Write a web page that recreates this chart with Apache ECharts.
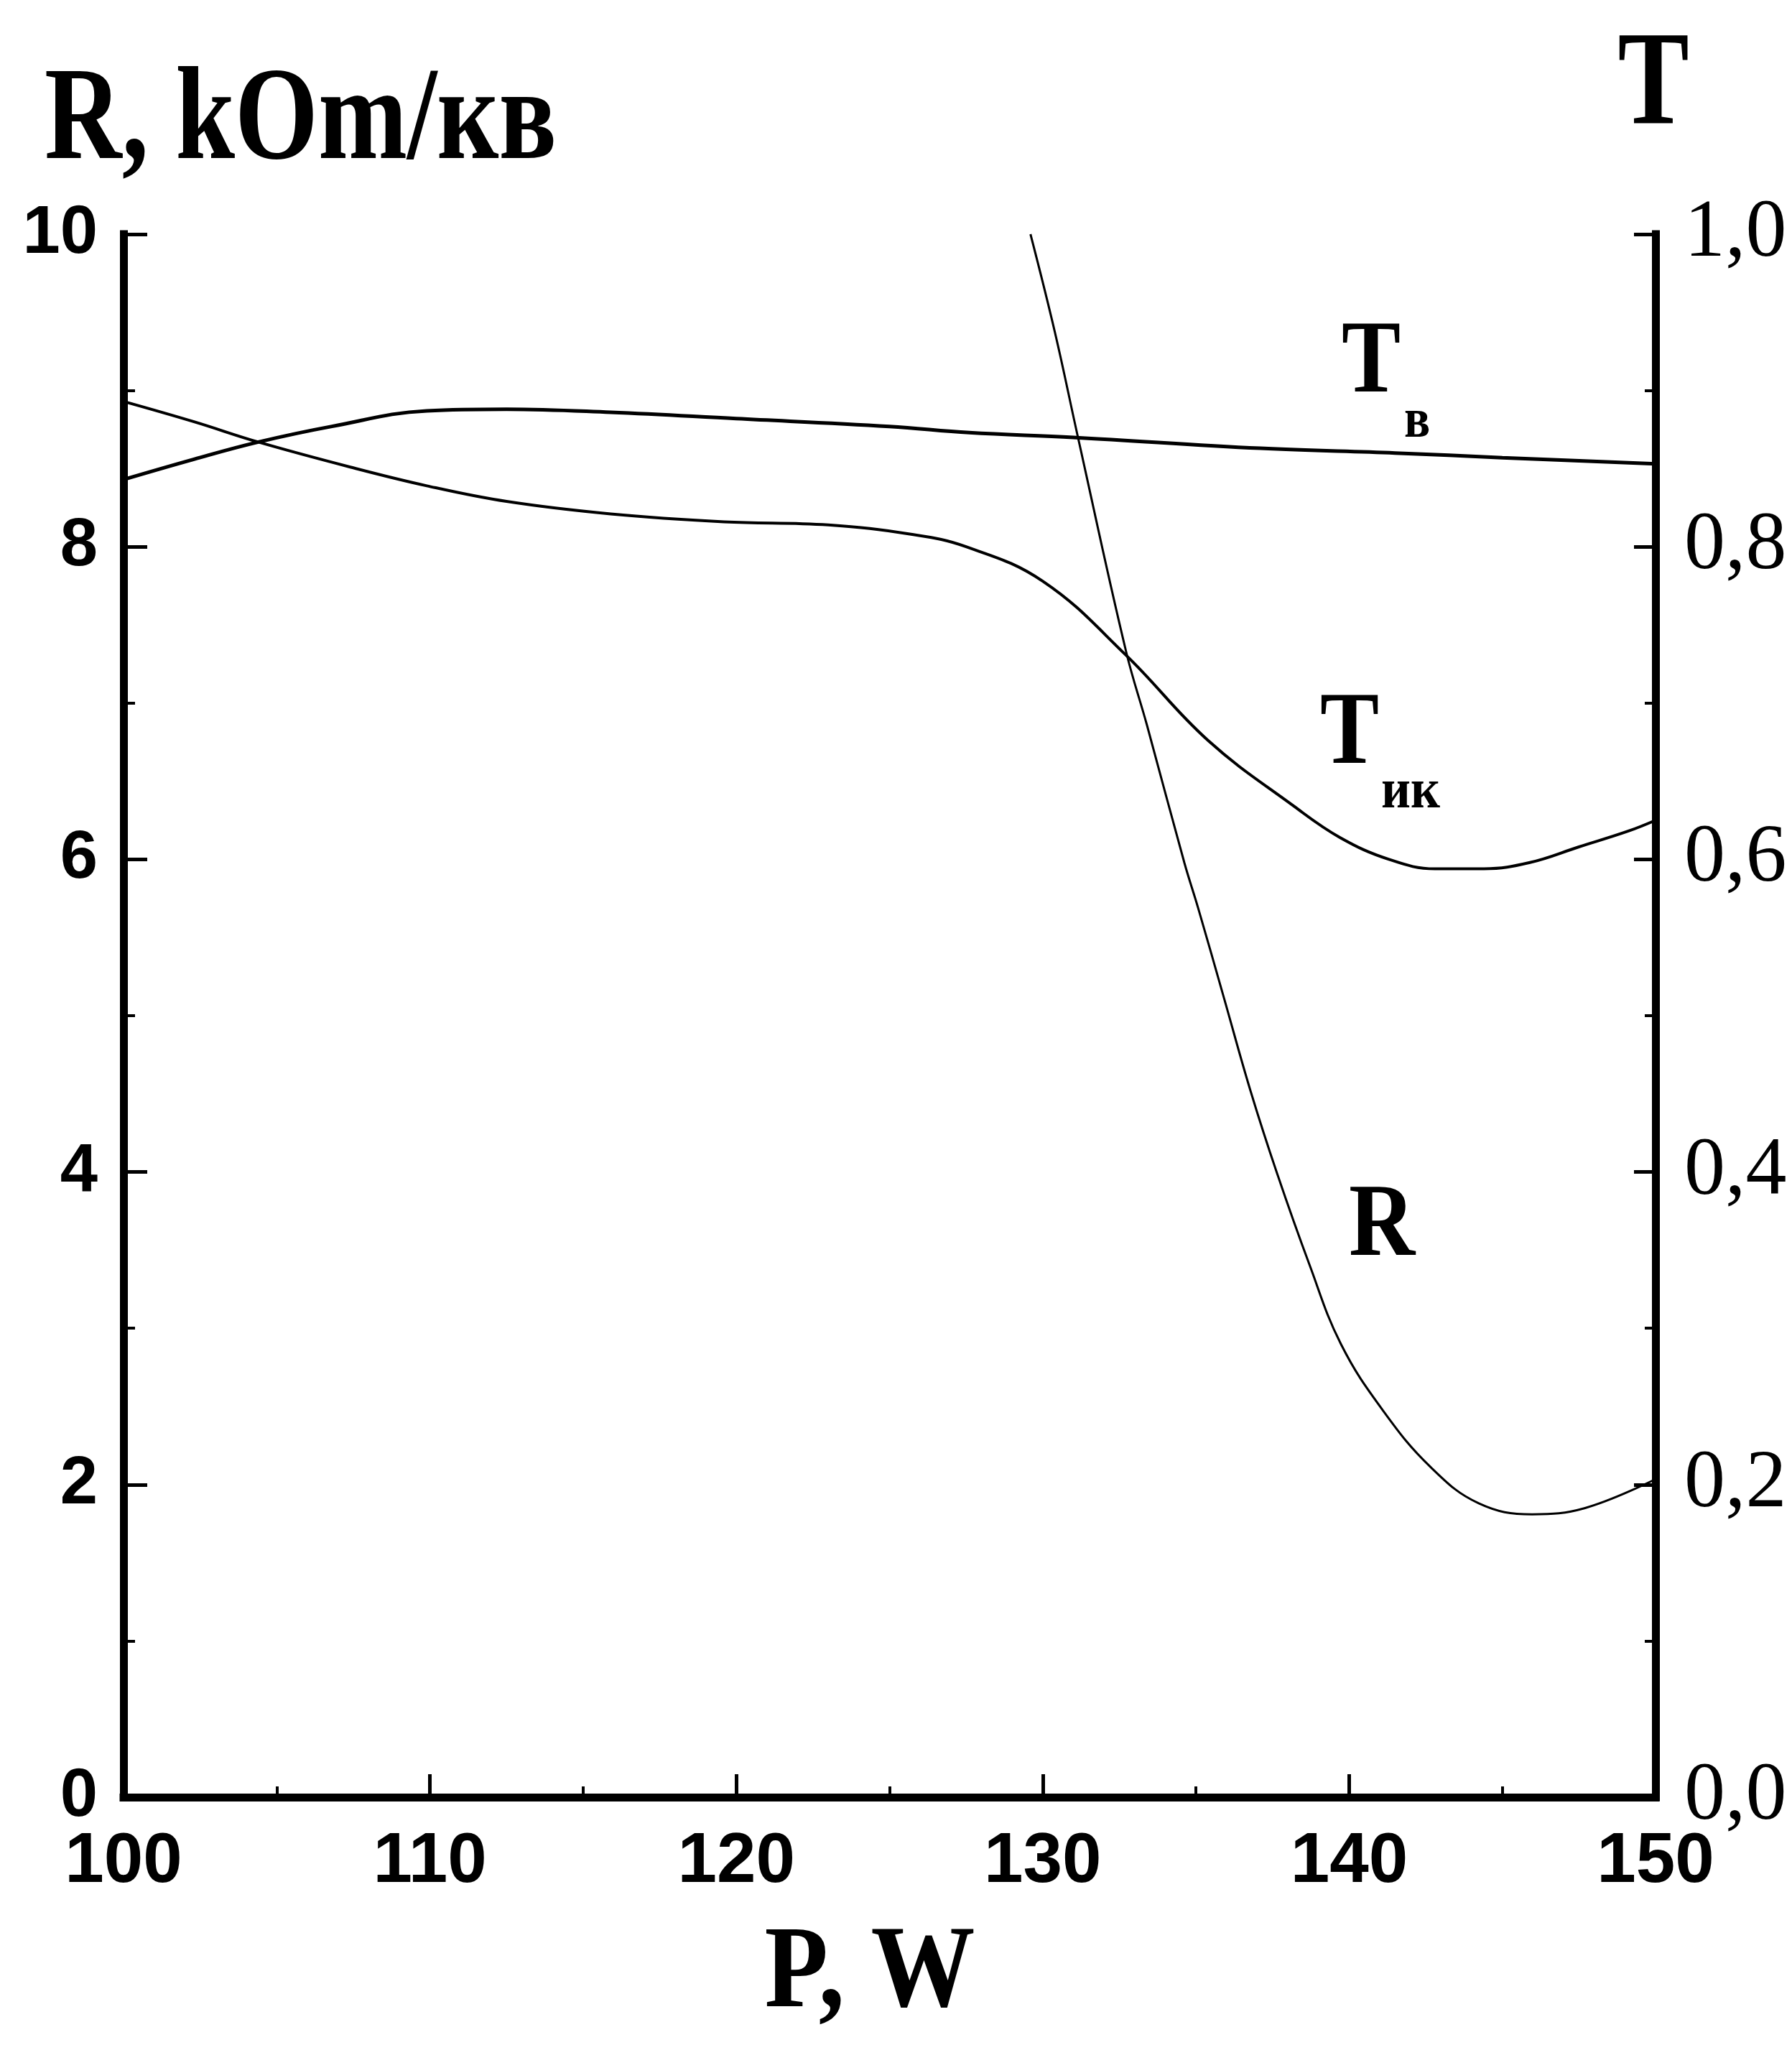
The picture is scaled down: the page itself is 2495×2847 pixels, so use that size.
<!DOCTYPE html>
<html>
<head>
<meta charset="utf-8">
<script src="https://cdn.jsdelivr.net/npm/echarts@6/dist/echarts.min.js"></script>
<style>
html,body{margin:0;padding:0;background:#fff;}
#chart{width:2495px;height:2847px;}
</style>
</head>
<body>
<div id="chart"></div>
<script>
// P, W (x values) and readings for each curve
const rP = [129.6, 130.4, 131.15, 132.72, 133.4, 134.62, 135.07, 135.92, 136.78, 137.65, 138.70, 139.73, 141.12, 142.67, 144.23, 145.97, 147.70, 149.95];
const rValues = [10.0, 9.37, 8.70, 7.33, 6.86, 5.98, 5.69, 5.11, 4.52, 3.99, 3.41, 2.90, 2.47, 2.11, 1.88, 1.81, 1.85, 2.03];

const tvP = [100, 102.3, 104.4, 106.8, 109.9, 112.5, 115.9, 120, 125, 127.6, 131, 137.1, 141.5, 145, 150];
const tvValues = [0.843, 0.856, 0.867, 0.877, 0.887, 0.888, 0.886, 0.882, 0.877, 0.873, 0.870, 0.863, 0.860, 0.857, 0.853];

const tikP = [100, 102.3, 104.4, 107.4, 109.9, 112.5, 115.9, 119.6, 123, 125.7, 127.5, 130, 132.7, 135.4, 138.2, 139.7, 141.3, 142.8, 144.4, 145.9, 147.5, 149.1, 150];
const tikValues = [0.893, 0.880, 0.867, 0.851, 0.839, 0.829, 0.821, 0.816, 0.814, 0.808, 0.800, 0.778, 0.731, 0.676, 0.634, 0.614, 0.600, 0.594, 0.594, 0.598, 0.608, 0.618, 0.625];

const xRange = [100, 150, 10];
const rRange = [0, 10, 2];
const tRange = [0, 1, 0.2];

const pairs = (xs, ys) => xs.map((x, i) => [x, ys[i]]);

const chart = echarts.init(document.getElementById('chart'), null, {renderer: 'canvas'});

const SANS = '"Liberation Sans Narrow", "Arial Narrow", "Liberation Sans", Arial, sans-serif';
const SERIF = '"Liberation Serif", "Times New Roman", serif';

const axisLineStyle = {color: '#000', width: 11, cap: 'square'};

function txt(text, x, y, size, scaleX, align, weight) {
  return {
    type: 'text', x: x, y: y, scaleX: scaleX, scaleY: 1, silent: true,
    style: {
      text: text, fill: '#000',
      font: (weight || 'bold') + ' ' + size + 'px ' + SERIF,
      align: align, textAlign: align,
      verticalAlign: 'middle', textVerticalAlign: 'middle'
    }
  };
}

const option = {
  backgroundColor: '#fff',
  animation: false,
  grid: {left: 172, right: 190, top: 326, bottom: 345, containLabel: false},
  xAxis: {
    type: 'value', min: xRange[0], max: xRange[1], interval: xRange[2],
    axisLine: {show: true, onZero: false, lineStyle: axisLineStyle},
    axisTick: {show: true, inside: true, length: 32, lineStyle: {color: '#000', width: 5}},
    minorTick: {show: true, splitNumber: 2, length: 15, lineStyle: {color: '#000', width: 4}},
    axisLabel: {color: '#000', fontFamily: SANS, fontWeight: 'bold', fontSize: 98, margin: 42},
    splitLine: {show: false}, minorSplitLine: {show: false}
  },
  yAxis: [
    {
      type: 'value', position: 'left', min: rRange[0], max: rRange[1], interval: rRange[2],
      axisLine: {show: true, onZero: false, lineStyle: axisLineStyle},
      axisTick: {show: true, inside: true, length: 33, lineStyle: {color: '#000', width: 5}},
      minorTick: {show: true, splitNumber: 2, length: 16, lineStyle: {color: '#000', width: 4}},
      axisLabel: {color: '#000', fontFamily: SANS, fontWeight: 'bold', fontSize: 94, margin: 36},
      splitLine: {show: false}, minorSplitLine: {show: false}
    },
    {
      type: 'value', position: 'right', min: tRange[0], max: tRange[1], interval: tRange[2],
      axisLine: {show: true, onZero: false, lineStyle: axisLineStyle},
      axisTick: {show: true, inside: true, length: 30, lineStyle: {color: '#000', width: 5}},
      minorTick: {show: true, splitNumber: 2, length: 15, lineStyle: {color: '#000', width: 4}},
      axisLabel: {
        color: '#000', fontFamily: SERIF, fontWeight: 'normal', fontSize: 114, margin: 40,
        padding: [0, 0, 20, 0],
        formatter: v => v.toFixed(1).replace('.', ',')
      },
      splitLine: {show: false}, minorSplitLine: {show: false}
    }
  ],
  series: [
    {
      name: 'R', type: 'line', yAxisIndex: 0, data: pairs(rP, rValues),
      smooth: 0.4, showSymbol: false, symbol: 'none',
      lineStyle: {color: '#000', width: 3}
    },
    {
      name: 'Tв', type: 'line', yAxisIndex: 1, data: pairs(tvP, tvValues),
      smooth: 0.4, showSymbol: false, symbol: 'none',
      lineStyle: {color: '#000', width: 5}
    },
    {
      name: 'Tик', type: 'line', yAxisIndex: 1, data: pairs(tikP, tikValues),
      smooth: 0.4, showSymbol: false, symbol: 'none',
      lineStyle: {color: '#000', width: 4}
    }
  ],
  graphic: [
    txt('R, kOm/кв', 62, 172, 184, 0.81, 'left'),
    txt('T', 2302, 124, 186, 0.8, 'center'),
    txt('T', 1909, 508, 143, 0.86, 'center'),
    txt('в', 1955, 588, 79, 0.85, 'left'),
    txt('T', 1879, 1025, 143, 0.86, 'center'),
    txt('ик', 1923, 1104, 79, 0.9, 'left'),
    txt('R', 1924, 1710, 145, 0.88, 'center'),
    txt('P, W', 1211, 2751, 163, 0.89, 'center')
  ]
};

chart.setOption(option);
</script>
</body>
</html>
